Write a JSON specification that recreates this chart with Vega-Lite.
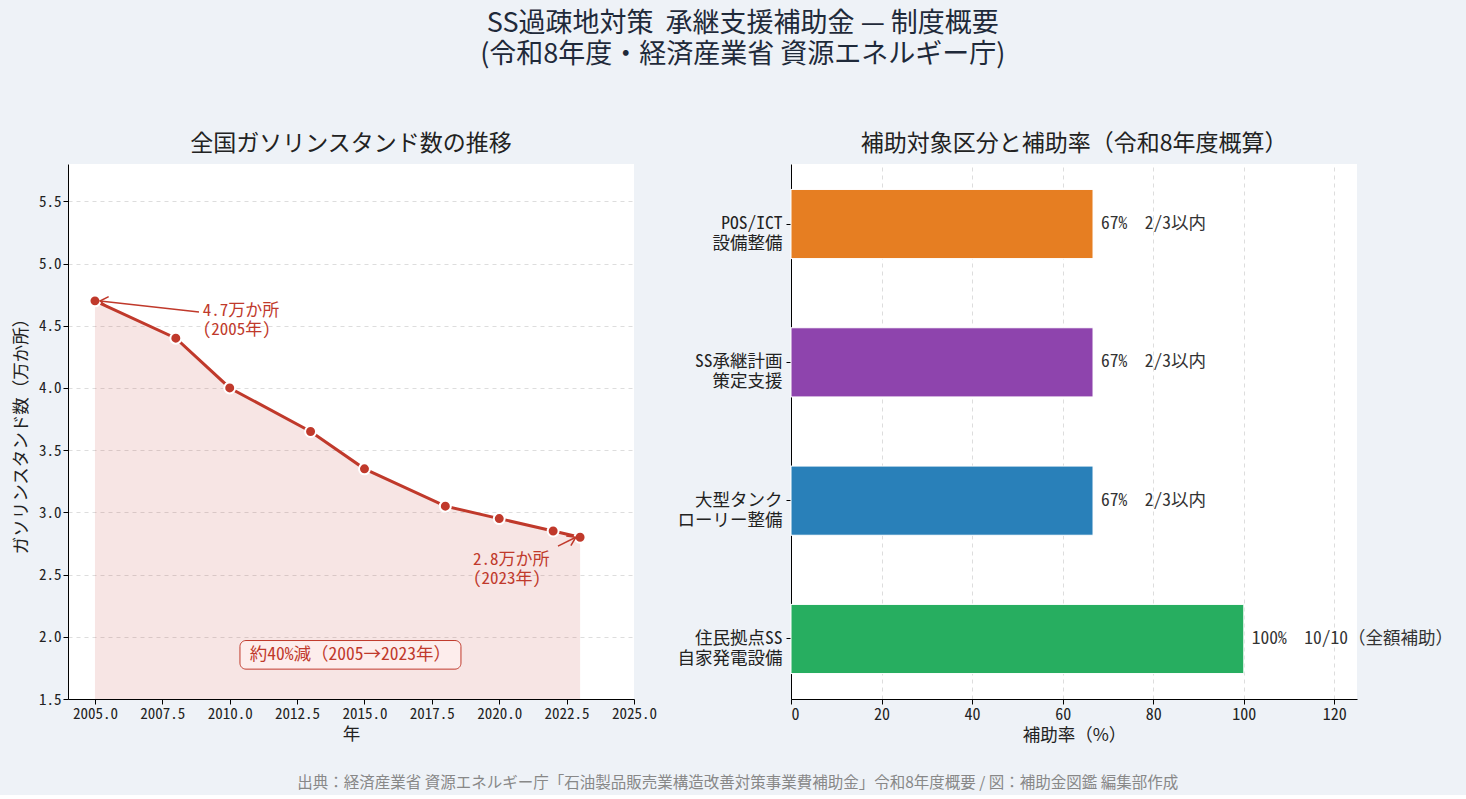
{
  "$schema": "https://vega.github.io/schema/vega-lite/v6.json",
  "background": "#EEF2F7",
  "padding": {"left": 12, "top": 10, "right": 15, "bottom": 4},
  "config": {
    "font": "Noto Sans CJK JP",
    "view": {"stroke": null, "fill": "white"},
    "axis": {
      "labelFont": "Noto Sans Mono CJK JP, Noto Sans CJK JP",
      "labelFontSize": 15,
      "labelColor": "#222",
      "titleFont": "Noto Sans CJK JP",
      "titleFontSize": 17.5,
      "titleFontWeight": "normal",
      "titleColor": "#222",
      "domainColor": "#000",
      "tickColor": "#000",
      "tickSize": 5,
      "gridColor": "#dddddd",
      "gridDash": [4, 4],
      "gridWidth": 1
    },
    "title": {"font": "Noto Sans CJK JP", "fontWeight": "normal", "color": "#222"}
  },
  "title": {
    "text": ["SS過疎地対策\u00a0\u00a0承継支援補助金 — 制度概要", "(令和8年度・経済産業省 資源エネルギー庁)"],
    "fontSize": 27,
    "lineHeight": 31,
    "anchor": "middle",
    "dx": 10,
    "offset": 64,
    "color": "#1f2a3a"
  },
  "vconcat": [
    {
      "title": {
        "text": "出典：経済産業省 資源エネルギー庁「石油製品販売業構造改善対策事業費補助金」令和8年度概要 / 図：補助金図鑑 編集部作成",
        "orient": "bottom",
        "anchor": "middle",
        "dx": 5,
        "fontSize": 15.5,
        "color": "#888888",
        "offset": 32
      },
      "hconcat": [
        {
          "width": 566,
          "height": 535,
          "title": {"text": "全国ガソリンスタンド数の推移", "fontSize": 23, "offset": 8},
          "layer": [
            {
              "data": {"name": "stations"},
              "mark": {"type": "area", "color": "#C0392B", "opacity": 0.13},
              "encoding": {
                "x": {"field": "year", "type": "quantitative", "scale": {"domain": [2004, 2025], "nice": false},
                  "axis": {"values": [2005, 2007.5, 2010, 2012.5, 2015, 2017.5, 2020, 2022.5, 2025], "format": ".1f", "grid": false, "title": "年", "labelFlush": false}},
                "y": {"field": "count", "type": "quantitative", "scale": {"domain": [1.5, 5.8], "nice": false, "zero": false},
                  "axis": {"values": [1.5, 2, 2.5, 3, 3.5, 4, 4.5, 5, 5.5], "format": ".1f", "grid": true, "title": "ガソリンスタンド数（万か所）", "titlePadding": 8}},
                "y2": {"datum": 1.5}
              }
            },
            {
              "data": {"name": "stations"},
              "mark": {"type": "line", "color": "#C0392B", "strokeWidth": 3},
              "encoding": {
                "x": {"field": "year", "type": "quantitative"},
                "y": {"field": "count", "type": "quantitative"}
              }
            },
            {
              "data": {"name": "stations"},
              "mark": {"type": "point", "filled": true, "fill": "#C0392B", "stroke": "white", "strokeWidth": 2, "size": 120, "opacity": 1},
              "encoding": {
                "x": {"field": "year", "type": "quantitative"},
                "y": {"field": "count", "type": "quantitative"}
              }
            },
            {
              "data": {"name": "arrows"},
              "mark": {"type": "rule", "color": "#C0392B", "strokeWidth": 1.5},
              "encoding": {
                "x": {"field": "x1", "type": "quantitative"},
                "y": {"field": "y1", "type": "quantitative"},
                "x2": {"field": "x2"},
                "y2": {"field": "y2"}
              }
            },
            {
              "data": {"name": "arrows"},
              "mark": {"type": "point", "shape": "M -1 -0.65 L 0 0 L -1 0.65", "filled": false, "stroke": "#C0392B", "strokeWidth": 1.5, "size": 260, "opacity": 1},
              "encoding": {
                "x": {"field": "x2", "type": "quantitative"},
                "y": {"field": "y2", "type": "quantitative"},
                "angle": {"field": "angle", "type": "quantitative", "scale": null}
              }
            },
            {
              "data": {"name": "notes"},
              "mark": {"type": "text", "align": "left", "baseline": "top", "fontSize": 17, "lineHeight": 19, "lineBreak": "\n", "color": "#C0392B", "font": "Noto Sans Mono CJK JP, Noto Sans CJK JP"},
              "encoding": {
                "x": {"field": "x", "type": "quantitative"},
                "y": {"field": "y", "type": "quantitative"},
                "text": {"field": "label"}
              }
            },
            {
              "data": {"name": "box"},
              "mark": {"type": "rect", "fill": "#FDEDEC", "stroke": "#C0392B", "strokeWidth": 1, "cornerRadius": 6, "opacity": 1},
              "encoding": {
                "x": {"field": "x1", "type": "quantitative"},
                "x2": {"field": "x2"},
                "y": {"field": "y1", "type": "quantitative"},
                "y2": {"field": "y2"}
              }
            },
            {
              "data": {"name": "box"},
              "mark": {"type": "text", "align": "center", "baseline": "middle", "fontSize": 17.5, "color": "#C0392B", "font": "Noto Sans Mono CJK JP, Noto Sans CJK JP"},
              "encoding": {
                "x": {"field": "xc", "type": "quantitative"},
                "y": {"field": "yc", "type": "quantitative"},
                "text": {"field": "label"}
              }
            }
          ]
        },
        {
          "width": 566,
          "height": 535,
          "title": {"text": "補助対象区分と補助率（令和8年度概算）", "fontSize": 23, "offset": 8},
          "data": {"name": "subsidy"},
          "layer": [
            {
              "mark": {"type": "bar", "stroke": "white", "strokeWidth": 1},
              "encoding": {
                "y": {"field": "category", "type": "nominal", "sort": null,
                  "scale": {"paddingInner": 0.5, "paddingOuter": 0.184},
                  "axis": {"title": null, "labelExpr": "split(datum.label, '|')", "labelFontSize": 17.5, "labelLineHeight": 20, "labelFont": "Noto Sans Mono CJK JP, Noto Sans CJK JP", "labelPadding": 4}},
                "x": {"field": "rate", "type": "quantitative", "scale": {"domain": [0, 125], "nice": false},
                  "axis": {"values": [0, 20, 40, 60, 80, 100, 120], "grid": true, "title": "補助率（%）", "labelFontSize": 16}},
                "color": {"field": "color", "type": "nominal", "scale": null, "legend": null}
              }
            },
            {
              "mark": {"type": "text", "align": "left", "baseline": "middle", "dx": 8, "fontSize": 17.5, "color": "#333333", "font": "Noto Sans Mono CJK JP, Noto Sans CJK JP"},
              "encoding": {
                "y": {"field": "category", "type": "nominal", "sort": null},
                "x": {"field": "rate", "type": "quantitative"},
                "text": {"field": "label"}
              }
            }
          ]
        }
      ],
      "spacing": 157,
      "bounds": "flush"
    }
  ],
  "datasets": {
    "stations": [
      {"year": 2005, "count": 4.7},
      {"year": 2008, "count": 4.4},
      {"year": 2010, "count": 4.0},
      {"year": 2013, "count": 3.65},
      {"year": 2015, "count": 3.35},
      {"year": 2018, "count": 3.05},
      {"year": 2020, "count": 2.95},
      {"year": 2022, "count": 2.85},
      {"year": 2023, "count": 2.8}
    ],
    "arrows": [
      {"x1": 2008.86, "y1": 4.611, "x2": 2005.19, "y2": 4.699, "angle": 186.3},
      {"x1": 2022.18, "y1": 2.729, "x2": 2022.84, "y2": 2.8, "angle": 333.8}
    ],
    "notes": [
      {"x": 2009.0, "y": 4.685, "label": "4.7万か所\n(2005年)"},
      {"x": 2019.03, "y": 2.68, "label": "2.8万か所\n(2023年)"}
    ],
    "box": [
      {"x1": 2010.38, "x2": 2018.58, "y1": 1.74, "y2": 1.97, "xc": 2014.48, "yc": 1.855, "label": "約40%減（2005→2023年）"}
    ],
    "subsidy": [
      {"category": "POS/ICT|設備整備", "rate": 66.7, "label": "67%\u00a0\u00a02/3以内", "color": "#E67E22"},
      {"category": "SS承継計画|策定支援", "rate": 66.7, "label": "67%\u00a0\u00a02/3以内", "color": "#8E44AD"},
      {"category": "大型タンク|ローリー整備", "rate": 66.7, "label": "67%\u00a0\u00a02/3以内", "color": "#2980B9"},
      {"category": "住民拠点SS|自家発電設備", "rate": 100, "label": "100%\u00a0\u00a010/10（全額補助）", "color": "#27AE60"}
    ]
  }
}
